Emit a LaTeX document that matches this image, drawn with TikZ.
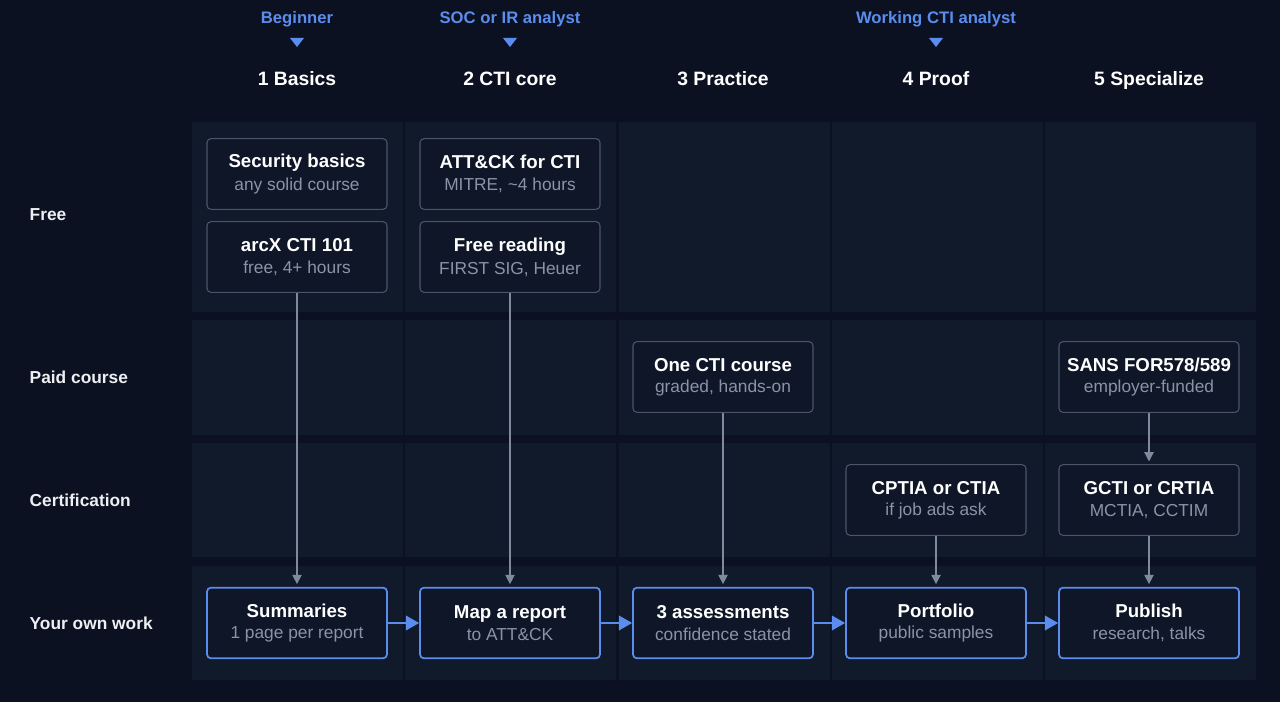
\documentclass[tikz,border=0pt]{standalone}
\usepackage{fontspec}
\setmainfont{Liberation Sans}
\usetikzlibrary{arrows.meta,positioning}
\definecolor{bgdark}{HTML}{0B1120}
\definecolor{celldark}{HTML}{111A2B}
\definecolor{boxfill}{HTML}{0E1627}
\definecolor{boxline}{HTML}{4A5568}
\definecolor{accent}{HTML}{5B8DEF}
\definecolor{subtext}{HTML}{8A94A6}
\definecolor{arrowgray}{HTML}{7F8A9C}
\tikzset{
  cell/.style={fill=celldark, draw=none},
  stepbox/.style={draw=boxline, fill=boxfill, rounded corners=3pt, line width=0.8pt,
    minimum width=135pt, minimum height=53pt, align=center, text=white},
  work/.style={stepbox, draw=accent, line width=1.3pt},
  rowlab/.style={anchor=west, text=white!85!subtext, font=\bfseries\fontsize{13}{15}\selectfont},
  colhead/.style={text=white, font=\bfseries\fontsize{14.5}{16}\selectfont},
  rolehead/.style={text=accent, font=\bfseries\fontsize{12.5}{14}\selectfont},
  feed/.style={draw=arrowgray, line width=1pt, -{Triangle[length=7pt,width=7pt]}},
  flow/.style={draw=accent, line width=1.5pt, -{Triangle[length=10pt,width=11pt]}},
}
\newcommand{\boxtext}[2]{{\bfseries\fontsize{14}{16}\selectfont #1}\\[4pt]{\fontsize{13}{15}\selectfont\color{subtext}#2}}
\begin{document}
\begin{tikzpicture}[x=0.75pt,y=-0.75pt]
  % Background and grid cells
  \fill[bgdark] (0,0) rectangle (1280,702);
  \foreach \cx in {192,405,619,832,1045} {
    \foreach \ya/\yb in {122/312,320/435,443/557,566/680} {
      \fill[cell] (\cx,\ya) rectangle ++(211,\yb-\ya);
    }
  }

  % Row labels
  \node[rowlab] (rfree) at (25,215) {Free};
  \node[rowlab] (rpaid) at (25,377) {Paid course};
  \node[rowlab] (rcert) at (25,500) {Certification};
  \node[rowlab] (rwork) at (25,623) {Your own work};

  % Column headers and roles
  \node[colhead, anchor=base] (h1) at (297,86) {1 Basics};
  \node[colhead, anchor=base] (h2) at (510,86) {2 CTI core};
  \node[colhead, anchor=base] (h3) at (723,86) {3 Practice};
  \node[colhead, anchor=base] (h4) at (936,86) {4 Proof};
  \node[colhead, anchor=base] (h5) at (1149,86) {5 Specialize};
  \node[rolehead, anchor=base] (r1) at (297,24) {Beginner};
  \node[rolehead, anchor=base] (r2) at (510,24) {SOC or IR analyst};
  \node[rolehead, anchor=base] (r4) at (936,24) {Working CTI analyst};
  \foreach \cx in {297,510,936} {
    \fill[accent] (\cx-7,38) -- (\cx+7,38) -- (\cx,47) -- cycle;
  }

  % Free row
  \node[stepbox] (secbasics) at (297,174) {\boxtext{Security basics}{any solid course}};
  \node[stepbox] (arcx) at (297,257) {\boxtext{arcX CTI 101}{free, 4+ hours}};
  \node[stepbox] (attck) at (510,174) {\boxtext{ATT\&CK for CTI}{MITRE, \textasciitilde4 hours}};
  \node[stepbox] (reading) at (510,257) {\boxtext{Free reading}{FIRST SIG, Heuer}};

  % Paid and certification rows
  \node[stepbox] (ctic) at (723,377) {\boxtext{One CTI course}{graded, hands-on}};
  \node[stepbox] (sans) at (1149,377) {\boxtext{SANS FOR578/589}{employer-funded}};
  \node[stepbox] (cptia) at (936,500) {\boxtext{CPTIA or CTIA}{if job ads ask}};
  \node[stepbox] (gcti) at (1149,500) {\boxtext{GCTI or CRTIA}{MCTIA, CCTIM}};

  % Own work row
  \node[work] (summ) at (297,623) {\boxtext{Summaries}{1 page per report}};
  \node[work] (mapr) at (510,623) {\boxtext{Map a report}{to ATT\&CK}};
  \node[work] (assess) at (723,623) {\boxtext{3 assessments}{confidence stated}};
  \node[work] (portf) at (936,623) {\boxtext{Portfolio}{public samples}};
  \node[work] (publ) at (1149,623) {\boxtext{Publish}{research, talks}};

  % Feeds into own work
  \draw[feed] (arcx) -- ([yshift=2pt]summ.north);
  \draw[feed] (reading) -- ([yshift=2pt]mapr.north);
  \draw[feed] (ctic) -- ([yshift=2pt]assess.north);
  \draw[feed] (cptia) -- ([yshift=2pt]portf.north);
  \draw[feed] (sans) -- ([yshift=2pt]gcti.north);
  \draw[feed] (gcti) -- ([yshift=2pt]publ.north);

  % Flow along own work
  \draw[flow] (summ) -- (mapr);
  \draw[flow] (mapr) -- (assess);
  \draw[flow] (assess) -- (portf);
  \draw[flow] (portf) -- (publ);
\end{tikzpicture}
\end{document}
